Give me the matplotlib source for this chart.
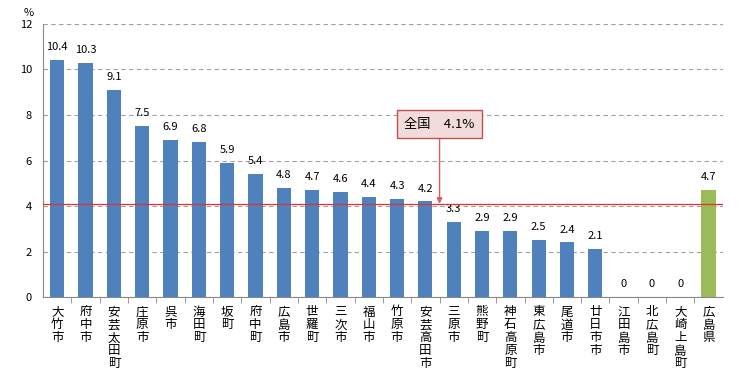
import matplotlib.pyplot as plt
from matplotlib.ticker import FixedLocator

plt.rcParams['font.family'] = ['Noto Sans CJK JP', 'DejaVu Sans']

names = ["大竹市", "府中市", "安芸太田町", "庄原市", "呉市", "海田町", "坂町", "府中町",
         "広島市", "世羅町", "三次市", "福山市", "竹原市", "安芸高田市", "三原市", "熊野町",
         "神石高原町", "東広島市", "尾道市", "廿日市市", "江田島市", "北広島町", "大崎上島町", "広島県"]
values = [10.4, 10.3, 9.1, 7.5, 6.9, 6.8, 5.9, 5.4, 4.8, 4.7, 4.6, 4.4, 4.3, 4.2,
          3.3, 2.9, 2.9, 2.5, 2.4, 2.1, 0, 0, 0, 4.7]
national = 4.1

blue = "#4F81BD"
green = "#9BBB59"
colors = [blue] * (len(names) - 1) + [green]

fig = plt.figure(figsize=(7.56, 3.79), dpi=100)
ax = fig.add_axes([0.057, 0.216, 0.899, 0.721])

x = list(range(len(names)))
ax.bar(x, values, width=0.5, color=colors, zorder=3)
for i, v in enumerate(values):
    ax.text(i, v + 0.35, f"{v:g}", ha="center", va="bottom", fontsize=8)

ax.set_xlim(-0.5, len(names) - 0.5)
ax.set_ylim(0, 12)
ax.set_yticks(range(0, 13, 2))
ax.tick_params(axis="y", labelsize=8, length=0, pad=8)
ax.set_xticks(x)
ax.set_xticklabels(["\n".join(n) for n in names], fontsize=9, linespacing=1.0, va="top")
ax.tick_params(axis="x", length=0, pad=6)
ax.xaxis.set_minor_locator(FixedLocator([i + 0.5 for i in x[:-1]]))
ax.tick_params(axis="x", which="minor", length=4, direction="out", color="#888888")

ax.yaxis.grid(True, linestyle=(0, (4, 3)), color="#A0A0A0", linewidth=0.8, zorder=0)
for s in ["top", "right"]:
    ax.spines[s].set_visible(False)
for s in ["left", "bottom"]:
    ax.spines[s].set_color("#888888")

ax.axhline(national, color="#E03030", linewidth=0.9, zorder=4)
ax.annotate(f"全国　{national}%", xy=(13.5, national), xytext=(13.5, 7.6),
            ha="center", va="center", fontsize=9.5,
            bbox=dict(boxstyle="square,pad=0.55", fc="#F2DCDB", ec="#C0504D", lw=1),
            arrowprops=dict(arrowstyle="-|>", color="#D06060", lw=1, shrinkA=0, shrinkB=0,
                            mutation_scale=8),
            zorder=5)

fig.text(0.038, 0.965, "%", fontsize=8, ha="center", va="center")

fig.savefig("out.png", dpi=100)
